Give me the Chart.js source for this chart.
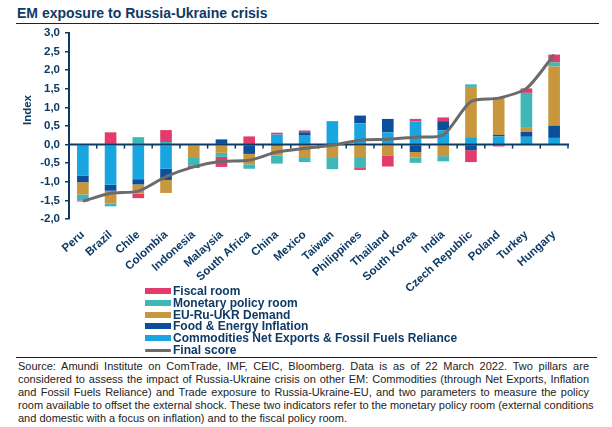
<!DOCTYPE html>
<html>
<head>
<meta charset="utf-8">
<script src="https://cdn.jsdelivr.net/npm/chart.js@4/dist/chart.umd.min.js"></script>
<style>
  html, body { margin:0; padding:0; background:#fff; width:612px; height:427px; overflow:hidden; }
  body { position:relative; font-family:"Liberation Sans", Arial, sans-serif; }
  #title { position:absolute; left:17px; top:5px; font-weight:bold; font-size:14px; color:#0e3a66; white-space:nowrap; }
  #rule1 { position:absolute; left:16px; top:23px; width:583px; height:0; border-top:1.3px solid #222; }
  #wrap { position:absolute; left:0; top:0; width:612px; height:300px; }
  #ytitle { position:absolute; left:20px; top:104px; transform:rotate(-90deg); transform-origin:center; font-weight:bold; font-size:11.5px; color:#0e3a66; width:40px; text-align:center; margin-left:-13px; }
  .lg { position:absolute; left:145px; font-weight:bold; font-size:12px; color:#0e3a66; white-space:nowrap; height:12px; line-height:12px; }
  .lg .sw { position:absolute; left:0; top:3px; width:26px; height:6px; }
  .lg .ln { position:absolute; left:0; top:5px; width:26px; height:3px; background:#6b6b6b; border-radius:1px; }
  .lg span.t { position:absolute; left:28px; top:0; }
  #rule2 { position:absolute; left:16px; top:357px; width:581px; height:0; border-top:1.3px solid #222; }
  #src { position:absolute; left:18px; top:360px; width:571px; font-size:11px; line-height:13px; color:#222; }
  #src div { text-align:justify; text-align-last:justify; white-space:nowrap; }
  #src div.last { text-align-last:left; }
</style>
</head>
<body>
<div id="title">EM exposure to Russia-Ukraine crisis</div>
<div id="rule1"></div>
<div id="wrap"><canvas id="c" width="612" height="300"></canvas></div>
<div id="ytitle">Index</div>
<div id="legend"></div>
<div id="rule2"></div>
<div id="src">
<div>Source: Amundi Institute on ComTrade, IMF, CEIC, Bloomberg. Data is as of 22 March 2022. Two pillars are</div>
<div>considered to assess the impact of Russia-Ukraine crisis on other EM: Commodities (through Net Exports, Inflation</div>
<div>and Fossil Fuels Reliance) and Trade exposure to Russia-Ukraine-EU, and two parameters to measure the policy</div>
<div>room available to offset the external shock. These two indicators refer to the monetary policy room (external conditions</div>
<div class="last">and domestic with a focus on inflation) and to the fiscal policy room.</div>
</div>
<script>
const categories = ['Peru','Brazil','Chile','Colombia','Indonesia','Malaysia','South Africa','China','Mexico','Taiwan','Philippines','Thailand','South Korea','India','Czech Republic','Poland','Turkey','Hungary'];
const commodities = [-0.83,-1.08,-0.93,-0.65,0,0,0,0.27,0.24,0.63,0.57,0.33,0.62,0.38,0.20,0.22,0.21,0.18];
const foodEnergy  = [-0.18,-0.16,-0.14,-0.30,0,0.14,-0.25,-0.04,0.09,0,0.21,0.36,-0.20,0.25,-0.15,0.04,0.13,0.33];
const euDemand    = [-0.33,-0.34,-0.25,-0.35,-0.36,-0.22,-0.28,-0.25,-0.36,-0.36,-0.36,-0.29,-0.15,-0.31,1.35,1.01,0.11,1.59];
const monetary    = [-0.16,-0.08,0.20,0.07,-0.20,-0.11,-0.12,-0.22,-0.11,-0.30,-0.27,0,-0.14,-0.14,0.07,0,0.94,0.11];
const fiscal      = [-0.03,0.33,-0.12,0.32,-0.07,-0.27,0.22,0.05,0.05,0,-0.05,-0.30,0.07,0.10,-0.32,-0.05,0.12,0.21];
const finalScore  = [-1.52,-1.31,-1.25,-0.86,-0.60,-0.45,-0.42,-0.20,-0.10,-0.02,0.12,0.14,0.20,0.26,1.16,1.25,1.51,2.42];
const yTicks = [-2,-1.5,-1,-0.5,0,0.5,1,1.5,2,2.5,3];

const NAVY = '#0e3a66';
const COLORS = {
  commodities:'#19a5e0', food:'#0b4e9b', eu:'#c8963d', monetary:'#3fb7b8', fiscal:'#e33b6c', final:'#6b6b6b'
};

// HTML legend
const legendItems = [
  ['Fiscal room', COLORS.fiscal, false],
  ['Monetary policy room', COLORS.monetary, false],
  ['EU-Ru-UKR Demand', COLORS.eu, false],
  ['Food & Energy Inflation', COLORS.food, false],
  ['Commodities Net Exports & Fossil Fuels Reliance', COLORS.commodities, false],
  ['Final score', COLORS.final, true]
];
const lg = document.getElementById('legend');
legendItems.forEach((it, i) => {
  const d = document.createElement('div');
  d.className = 'lg';
  d.style.top = (285 + i * 11.8) + 'px';
  d.innerHTML = (it[2] ? '<div class="ln"></div>' : '<div class="sw" style="background:' + it[1] + '"></div>') +
    '<span class="t">' + it[0].replace('&', '&amp;') + '</span>';
  lg.appendChild(d);
});

const zeroLine = {
  id: 'zeroLine',
  beforeDatasetDraw(chart, args) {
    if (args.index !== 5) return;
    const { ctx, chartArea } = chart;
    const x = chart.scales.x, y = chart.scales.y;
    const y0 = y.getPixelForValue(0);
    ctx.save();
    ctx.strokeStyle = NAVY;
    ctx.lineWidth = 2;
    ctx.beginPath();
    ctx.moveTo(chartArea.left, y0);
    ctx.lineTo(chartArea.right + 1, y0);
    ctx.stroke();
    ctx.lineWidth = 1.5;
    const n = categories.length;
    for (let i = 1; i <= n; i++) {
      const bx = i < n ? (x.getPixelForValue(i - 1) + x.getPixelForValue(i)) / 2 : chartArea.right;
      ctx.beginPath();
      ctx.moveTo(bx, y0);
      ctx.lineTo(bx, y0 + 4);
      ctx.stroke();
    }
    ctx.restore();
  }
};

function barDs(label, data, color) {
  return { type:'bar', label, data, backgroundColor:color, borderWidth:0, stack:'s', order:1,
           barPercentage:0.42, categoryPercentage:1 };
}

new Chart(document.getElementById('c'), {
  data: {
    labels: categories,
    datasets: [
      barDs('Commodities Net Exports & Fossil Fuels Reliance', commodities, COLORS.commodities),
      barDs('Food & Energy Inflation', foodEnergy, COLORS.food),
      barDs('EU-Ru-UKR Demand', euDemand, COLORS.eu),
      barDs('Monetary policy room', monetary, COLORS.monetary),
      barDs('Fiscal room', fiscal, COLORS.fiscal),
      { type:'line', label:'Final score', data:finalScore, borderColor:COLORS.final, backgroundColor:COLORS.final,
        borderWidth:3, pointRadius:0, tension:0.25, order:0 }
    ]
  },
  options: {
    responsive:false, animation:false,
    devicePixelRatio:1,
    layout: { padding: { left:0, right:44, top:33, bottom:0 } },
    plugins: { legend:{ display:false }, tooltip:{ enabled:false } },
    scales: {
      x: {
        stacked:true,
        grid:{ display:false, drawTicks:false },
        border:{ display:false },
        ticks:{ autoSkip:false, maxRotation:42, minRotation:42, padding:9,
                font:{ family:'"Liberation Sans", Arial, sans-serif', size:11.5, weight:'bold' }, color:NAVY },
        afterFit(s) { s.height = 81; }
      },
      y: {
        stacked:true, min:-2, max:3,
        afterBuildTicks(s) { s.ticks = yTicks.map(v => ({ value:v })); },
        grid:{ drawOnChartArea:false, drawTicks:true, tickLength:4, color:NAVY, lineWidth:1.5 },
        border:{ display:true, color:NAVY, width:2 },
        ticks:{ padding:5, color:NAVY,
                font:{ family:'"Liberation Sans", Arial, sans-serif', size:11.5, weight:'bold' },
                callback:(v) => Number(v).toFixed(1).replace('.', ',') },
        afterFit(s) { s.width = 69; }
      }
    }
  },
  plugins: [zeroLine]
});
</script>
</body>
</html>
